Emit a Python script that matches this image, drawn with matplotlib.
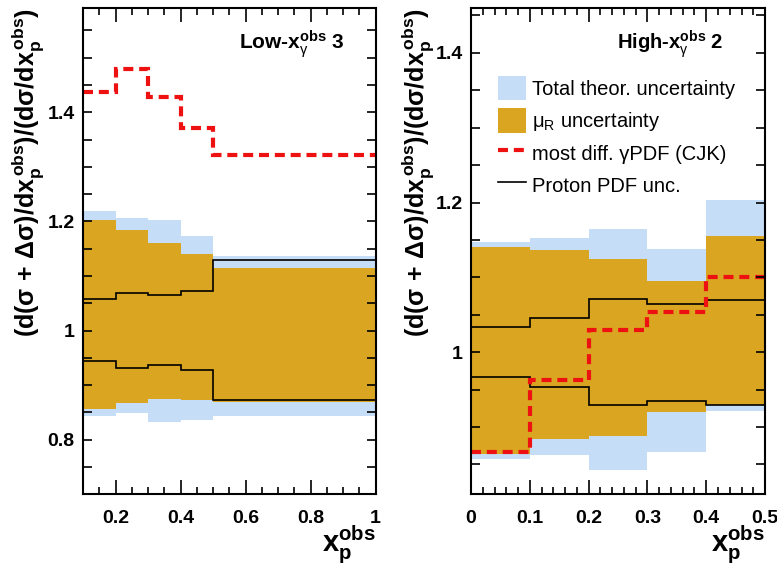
import matplotlib
matplotlib.use("Agg")
import matplotlib.pyplot as plt
import numpy as np
from matplotlib.ticker import MultipleLocator, FormatStrFormatter

plt.rcParams['font.family'] = ['Liberation Sans', 'DejaVu Sans']
plt.rcParams['mathtext.fontset'] = 'custom'
plt.rcParams['mathtext.rm'] = 'Liberation Sans'
plt.rcParams['mathtext.it'] = 'Liberation Sans:italic'
plt.rcParams['mathtext.bf'] = 'Liberation Sans:bold'

# Low-x_gamma^obs region 3
low_edges = [0.1, 0.2, 0.3, 0.4, 0.5, 1.0]
low_tot_up = [1.219, 1.206, 1.203, 1.174, 1.136]
low_tot_dn = [0.843, 0.849, 0.832, 0.837, 0.843]
low_mur_up = [1.202, 1.185, 1.160, 1.141, 1.115]
low_mur_dn = [0.857, 0.868, 0.875, 0.873, 0.869]
low_pdf_up = [1.057, 1.069, 1.065, 1.072, 1.129]
low_pdf_dn = [0.944, 0.931, 0.936, 0.928, 0.873]
low_cjk = [1.438, 1.479, 1.428, 1.372, 1.322]

# High-x_gamma^obs region 2
high_edges = [0.0, 0.1, 0.2, 0.3, 0.4, 0.5]
high_tot_up = [1.147, 1.152, 1.165, 1.138, 1.204]
high_tot_dn = [0.857, 0.863, 0.842, 0.866, 0.921]
high_mur_up = [1.140, 1.137, 1.125, 1.095, 1.155]
high_mur_dn = [0.864, 0.884, 0.888, 0.920, 0.929]
high_pdf_up = [1.033, 1.046, 1.071, 1.065, 1.070]
high_pdf_dn = [0.967, 0.954, 0.930, 0.935, 0.929]
high_cjk = [0.866, 0.963, 1.029, 1.053, 1.101]

c_tot = '#c6ddf7'
c_mur = '#daa520'

ylab = (r'$\mathbf{(d(\sigma\,+\,\Delta\sigma)/dx_{p}^{\,obs})'
        r'/(d\sigma/dx_{p}^{\,obs})}$')
xlab = r'$\mathbf{x_{p}^{obs}}$'

fig = plt.figure(figsize=(7.77, 5.80), dpi=100)
ax1 = fig.add_axes([0.1068, 0.1478, 0.3767, 0.8384])
ax2 = fig.add_axes([0.6062, 0.1478, 0.3784, 0.8384])


def draw_panel(ax, edges, tot_up, tot_dn, mur_up, mur_dn, pdf_up, pdf_dn, cjk):
    ax.stairs(tot_up, edges, baseline=tot_dn, fill=True, color=c_tot, lw=0)
    ax.stairs(mur_up, edges, baseline=mur_dn, fill=True, color=c_mur, lw=0)
    ax.stairs(pdf_up, edges, baseline=None, color='black', lw=1.2)
    ax.stairs(pdf_dn, edges, baseline=None, color='black', lw=1.2)
    ax.stairs(cjk, edges, baseline=None, color='#ee1111', lw=3.0,
              linestyle=(0, (2.4, 1.4)))
    ax.tick_params(which='both', direction='in', top=True, right=True,
                   labelsize=14, width=1.2)
    ax.tick_params(axis='x', which='major', length=10, pad=11)
    ax.tick_params(axis='x', which='minor', length=5)
    ax.tick_params(axis='y', which='major', length=6.5, pad=6)
    ax.tick_params(axis='y', which='minor', length=6.5)
    for lab in ax.get_xticklabels() + ax.get_yticklabels():
        lab.set_fontweight('bold')
    for sp in ax.spines.values():
        sp.set_linewidth(1.5)
    ax.yaxis.set_major_locator(MultipleLocator(0.2))
    ax.yaxis.set_minor_locator(MultipleLocator(0.05))
    ax.xaxis.set_major_formatter(FormatStrFormatter('%g'))
    ax.yaxis.set_major_formatter(FormatStrFormatter('%g'))
    ax.set_ylabel(ylab, fontsize=18, loc='top')
    ax.set_xlabel(xlab, fontsize=21, loc='right')
    ax.xaxis.set_label_coords(1.0, -0.06)


draw_panel(ax1, low_edges, low_tot_up, low_tot_dn, low_mur_up, low_mur_dn,
           low_pdf_up, low_pdf_dn, low_cjk)
ax1.set_xlim(0.1, 1.0)
ax1.set_ylim(0.7, 1.591)
ax1.xaxis.set_major_locator(MultipleLocator(0.2))
ax1.xaxis.set_minor_locator(MultipleLocator(0.05))
ax1.yaxis.set_label_coords(-0.125, 1.0)
ax1.text(0.895, 0.915, r'Low-$\mathbf{x}^{\mathbf{obs}}_{\mathrm{\gamma}}$ 3',
         transform=ax1.transAxes, ha='right', va='baseline', fontsize=15,
         fontweight='bold')

draw_panel(ax2, high_edges, high_tot_up, high_tot_dn, high_mur_up, high_mur_dn,
           high_pdf_up, high_pdf_dn, high_cjk)
ax2.set_xlim(0.0, 0.5)
ax2.set_ylim(0.81, 1.46)
ax2.xaxis.set_major_locator(MultipleLocator(0.1))
ax2.xaxis.set_minor_locator(MultipleLocator(0.02))
ax2.yaxis.set_label_coords(-0.118, 1.0)
ax2.text(0.857, 0.915, r'High-$\mathbf{x}^{\mathbf{obs}}_{\mathrm{\gamma}}$ 2',
         transform=ax2.transAxes, ha='right', va='baseline', fontsize=14.5,
         fontweight='bold')

# legend
handles = [
    plt.Rectangle((0, 0), 1, 1, color=c_tot, lw=0),
    plt.Rectangle((0, 0), 1, 1, color=c_mur, lw=0),
    plt.Line2D([], [], color='#ee1111', lw=3.0, linestyle=(0, (2.4, 1.4))),
    plt.Line2D([], [], color='black', lw=1.2),
]
labels = ['Total theor. uncertainty', r'μ$_{\mathrm{R}}$ uncertainty',
          'most diff. γPDF (CJK)', 'Proton PDF unc.']
ax2.legend(handles, labels, loc='upper left', bbox_to_anchor=(0.065, 0.877),
           frameon=False, fontsize=14.5, handlelength=1.4, handleheight=1.5,
           handletextpad=0.3, labelspacing=0.38, borderaxespad=0)

fig.savefig('out.png', dpi=100)
